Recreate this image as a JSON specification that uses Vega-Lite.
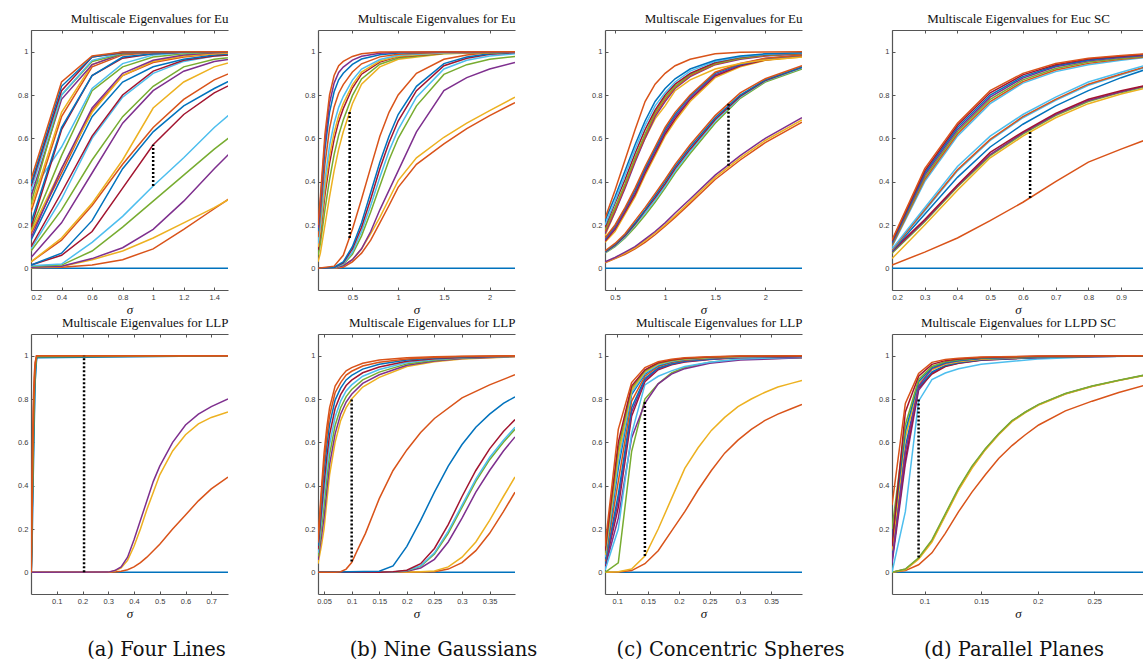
{
"$schema":"https://vega.github.io/schema/vega-lite/v6.json",
"padding":{"left":17,"top":12,"right":0,"bottom":0},
"config":{
 "view":{"stroke":null},
 "range":{"category":["#0072BD","#D95319","#EDB120","#7E2F8E","#77AC30","#4DBEEE","#A2142F"]},
 "axis":{"grid":false,"domainColor":"#555555","domainWidth":1.2,"tickColor":"#555555","tickSize":-3,"tickWidth":1,"labelFont":"Liberation Sans","labelFontSize":7.5,"labelColor":"#3a3a3a","labelPadding":6,"titleFont":"Liberation Serif","titleFontWeight":"normal","titleColor":"#111111"},
 "title":{"font":"DejaVu Serif","fontSize":19.5,"fontWeight":"normal","color":"#111111","orient":"bottom","offset":20}
},
"columns":4,
"bounds":"flush",
"align":"each",
"spacing":{"row":44,"column":90},
"datasets":{
"dots":[{"p":"a1","x":1,"y1":0.38,"y2":0.57},{"p":"b1","x":0.47,"y1":0.14,"y2":0.73},{"p":"c1","x":1.633,"y1":0.474,"y2":0.766},{"p":"d1","x":0.622,"y1":0.325,"y2":0.64},{"p":"a2","x":0.206,"y1":0,"y2":1},{"p":"b2","x":0.1,"y1":0.05,"y2":0.8},{"p":"c2","x":0.1448,"y1":0.075,"y2":0.79},{"p":"d2","x":0.0947,"y1":0.068,"y2":0.8}],
"a1":[
{"k":"01","x":0.2,"y":0},{"k":"01","x":1.6,"y":0},
{"k":"02","x":0.2,"y":0.003},{"k":"02","x":0.4,"y":0.005},{"k":"02","x":0.6,"y":0.015},{"k":"02","x":0.8,"y":0.04},{"k":"02","x":1,"y":0.09},{"k":"02","x":1.2,"y":0.18},{"k":"02","x":1.4,"y":0.275},{"k":"02","x":1.6,"y":0.37},
{"k":"03","x":0.2,"y":0.003},{"k":"03","x":0.4,"y":0.008},{"k":"03","x":0.6,"y":0.04},{"k":"03","x":0.8,"y":0.08},{"k":"03","x":1,"y":0.14},{"k":"03","x":1.2,"y":0.21},{"k":"03","x":1.4,"y":0.28},{"k":"03","x":1.6,"y":0.36},
{"k":"04","x":0.2,"y":0.005},{"k":"04","x":0.4,"y":0.01},{"k":"04","x":0.6,"y":0.045},{"k":"04","x":0.8,"y":0.095},{"k":"04","x":1,"y":0.18},{"k":"04","x":1.2,"y":0.31},{"k":"04","x":1.4,"y":0.46},{"k":"04","x":1.6,"y":0.6},
{"k":"05","x":0.2,"y":0.01},{"k":"05","x":0.4,"y":0.015},{"k":"05","x":0.6,"y":0.08},{"k":"05","x":0.8,"y":0.19},{"k":"05","x":1,"y":0.31},{"k":"05","x":1.2,"y":0.43},{"k":"05","x":1.4,"y":0.55},{"k":"05","x":1.6,"y":0.66},
{"k":"06","x":0.2,"y":0.012},{"k":"06","x":0.4,"y":0.02},{"k":"06","x":0.6,"y":0.12},{"k":"06","x":0.8,"y":0.24},{"k":"06","x":1,"y":0.38},{"k":"06","x":1.2,"y":0.51},{"k":"06","x":1.4,"y":0.65},{"k":"06","x":1.6,"y":0.77},
{"k":"07","x":0.2,"y":0.015},{"k":"07","x":0.4,"y":0.06},{"k":"07","x":0.6,"y":0.17},{"k":"07","x":0.8,"y":0.37},{"k":"07","x":1,"y":0.57},{"k":"07","x":1.2,"y":0.71},{"k":"07","x":1.4,"y":0.81},{"k":"07","x":1.6,"y":0.88},
{"k":"08","x":0.2,"y":0.015},{"k":"08","x":0.4,"y":0.07},{"k":"08","x":0.6,"y":0.22},{"k":"08","x":0.8,"y":0.46},{"k":"08","x":1,"y":0.63},{"k":"08","x":1.2,"y":0.75},{"k":"08","x":1.4,"y":0.83},{"k":"08","x":1.6,"y":0.9},
{"k":"09","x":0.2,"y":0.03},{"k":"09","x":0.4,"y":0.13},{"k":"09","x":0.6,"y":0.29},{"k":"09","x":0.8,"y":0.48},{"k":"09","x":1,"y":0.65},{"k":"09","x":1.2,"y":0.78},{"k":"09","x":1.4,"y":0.87},{"k":"09","x":1.6,"y":0.93},
{"k":"10","x":0.2,"y":0.03},{"k":"10","x":0.4,"y":0.14},{"k":"10","x":0.6,"y":0.3},{"k":"10","x":0.8,"y":0.5},{"k":"10","x":1,"y":0.74},{"k":"10","x":1.2,"y":0.86},{"k":"10","x":1.4,"y":0.93},{"k":"10","x":1.6,"y":0.97},
{"k":"11","x":0.2,"y":0.05},{"k":"11","x":0.4,"y":0.21},{"k":"11","x":0.6,"y":0.44},{"k":"11","x":0.8,"y":0.67},{"k":"11","x":1,"y":0.82},{"k":"11","x":1.2,"y":0.91},{"k":"11","x":1.4,"y":0.955},{"k":"11","x":1.6,"y":0.975},
{"k":"12","x":0.2,"y":0.08},{"k":"12","x":0.4,"y":0.27},{"k":"12","x":0.6,"y":0.5},{"k":"12","x":0.8,"y":0.7},{"k":"12","x":1,"y":0.84},{"k":"12","x":1.2,"y":0.93},{"k":"12","x":1.4,"y":0.965},{"k":"12","x":1.6,"y":0.98},
{"k":"13","x":0.2,"y":0.09},{"k":"13","x":0.4,"y":0.32},{"k":"13","x":0.6,"y":0.6},{"k":"13","x":0.8,"y":0.79},{"k":"13","x":1,"y":0.9},{"k":"13","x":1.2,"y":0.955},{"k":"13","x":1.4,"y":0.98},{"k":"13","x":1.6,"y":0.99},
{"k":"14","x":0.2,"y":0.1},{"k":"14","x":0.4,"y":0.35},{"k":"14","x":0.6,"y":0.61},{"k":"14","x":0.8,"y":0.8},{"k":"14","x":1,"y":0.91},{"k":"14","x":1.2,"y":0.96},{"k":"14","x":1.4,"y":0.98},{"k":"14","x":1.6,"y":0.99},
{"k":"15","x":0.2,"y":0.13},{"k":"15","x":0.4,"y":0.42},{"k":"15","x":0.6,"y":0.7},{"k":"15","x":0.8,"y":0.86},{"k":"15","x":1,"y":0.93},{"k":"15","x":1.2,"y":0.965},{"k":"15","x":1.4,"y":0.985},{"k":"15","x":1.6,"y":0.995},
{"k":"16","x":0.2,"y":0.16},{"k":"16","x":0.4,"y":0.44},{"k":"16","x":0.6,"y":0.73},{"k":"16","x":0.8,"y":0.89},{"k":"16","x":1,"y":0.95},{"k":"16","x":1.2,"y":0.975},{"k":"16","x":1.4,"y":0.99},{"k":"16","x":1.6,"y":0.995},
{"k":"17","x":0.2,"y":0.17},{"k":"17","x":0.4,"y":0.46},{"k":"17","x":0.6,"y":0.72},{"k":"17","x":0.8,"y":0.89},{"k":"17","x":1,"y":0.955},{"k":"17","x":1.2,"y":0.98},{"k":"17","x":1.4,"y":0.99},{"k":"17","x":1.6,"y":0.998},
{"k":"18","x":0.2,"y":0.14},{"k":"18","x":0.4,"y":0.46},{"k":"18","x":0.6,"y":0.74},{"k":"18","x":0.8,"y":0.9},{"k":"18","x":1,"y":0.96},{"k":"18","x":1.2,"y":0.985},{"k":"18","x":1.4,"y":0.995},{"k":"18","x":1.6,"y":1},
{"k":"19","x":0.2,"y":0.18},{"k":"19","x":0.4,"y":0.52},{"k":"19","x":0.6,"y":0.82},{"k":"19","x":0.8,"y":0.93},{"k":"19","x":1,"y":0.975},{"k":"19","x":1.2,"y":0.99},{"k":"19","x":1.4,"y":0.997},{"k":"19","x":1.6,"y":1},
{"k":"20","x":0.2,"y":0.35},{"k":"20","x":0.4,"y":0.56},{"k":"20","x":0.6,"y":0.83},{"k":"20","x":0.8,"y":0.945},{"k":"20","x":1,"y":0.985},{"k":"20","x":1.2,"y":0.995},{"k":"20","x":1.4,"y":0.998},{"k":"20","x":1.6,"y":1},
{"k":"21","x":0.2,"y":0.19},{"k":"21","x":0.4,"y":0.64},{"k":"21","x":0.6,"y":0.89},{"k":"21","x":0.8,"y":0.97},{"k":"21","x":1,"y":0.99},{"k":"21","x":1.2,"y":0.997},{"k":"21","x":1.6,"y":1},
{"k":"22","x":0.2,"y":0.21},{"k":"22","x":0.4,"y":0.65},{"k":"22","x":0.6,"y":0.89},{"k":"22","x":0.8,"y":0.975},{"k":"22","x":1,"y":0.99},{"k":"22","x":1.2,"y":0.998},{"k":"22","x":1.6,"y":1},
{"k":"23","x":0.2,"y":0.26},{"k":"23","x":0.4,"y":0.7},{"k":"23","x":0.6,"y":0.93},{"k":"23","x":0.8,"y":0.985},{"k":"23","x":1,"y":0.996},{"k":"23","x":1.6,"y":1},
{"k":"24","x":0.2,"y":0.28},{"k":"24","x":0.4,"y":0.72},{"k":"24","x":0.6,"y":0.94},{"k":"24","x":0.8,"y":0.99},{"k":"24","x":1,"y":0.997},{"k":"24","x":1.6,"y":1},
{"k":"25","x":0.2,"y":0.33},{"k":"25","x":0.4,"y":0.78},{"k":"25","x":0.6,"y":0.94},{"k":"25","x":0.8,"y":0.99},{"k":"25","x":1,"y":0.998},{"k":"25","x":1.6,"y":1},
{"k":"26","x":0.2,"y":0.3},{"k":"26","x":0.4,"y":0.8},{"k":"26","x":0.6,"y":0.955},{"k":"26","x":0.8,"y":0.99},{"k":"26","x":1,"y":0.998},{"k":"26","x":1.6,"y":1},
{"k":"27","x":0.2,"y":0.36},{"k":"27","x":0.4,"y":0.8},{"k":"27","x":0.6,"y":0.96},{"k":"27","x":0.8,"y":0.995},{"k":"27","x":1.6,"y":1},
{"k":"28","x":0.2,"y":0.38},{"k":"28","x":0.4,"y":0.82},{"k":"28","x":0.6,"y":0.975},{"k":"28","x":0.8,"y":0.995},{"k":"28","x":1.6,"y":1},
{"k":"29","x":0.2,"y":0.39},{"k":"29","x":0.4,"y":0.84},{"k":"29","x":0.6,"y":0.975},{"k":"29","x":0.8,"y":0.998},{"k":"29","x":1.6,"y":1},
{"k":"30","x":0.2,"y":0.41},{"k":"30","x":0.4,"y":0.86},{"k":"30","x":0.6,"y":0.98},{"k":"30","x":0.8,"y":0.998},{"k":"30","x":1.6,"y":1}
],
"b1":[
{"k":"01","x":0.124,"y":0},{"k":"01","x":2.277,"y":0},
{"k":"02","x":0.124,"y":0},{"k":"02","x":0.3,"y":0},{"k":"02","x":0.4,"y":0.005},{"k":"02","x":0.5,"y":0.03},{"k":"02","x":0.6,"y":0.07},{"k":"02","x":0.7,"y":0.13},{"k":"02","x":0.8,"y":0.21},{"k":"02","x":0.9,"y":0.29},{"k":"02","x":1,"y":0.374},{"k":"02","x":1.2,"y":0.48},{"k":"02","x":1.5,"y":0.574},{"k":"02","x":1.75,"y":0.645},{"k":"02","x":2,"y":0.705},{"k":"02","x":2.277,"y":0.765},
{"k":"03","x":0.124,"y":0},{"k":"03","x":0.3,"y":0},{"k":"03","x":0.4,"y":0.01},{"k":"03","x":0.5,"y":0.04},{"k":"03","x":0.6,"y":0.09},{"k":"03","x":0.7,"y":0.16},{"k":"03","x":0.8,"y":0.235},{"k":"03","x":0.9,"y":0.32},{"k":"03","x":1,"y":0.405},{"k":"03","x":1.2,"y":0.51},{"k":"03","x":1.5,"y":0.605},{"k":"03","x":1.75,"y":0.67},{"k":"03","x":2,"y":0.728},{"k":"03","x":2.277,"y":0.79},
{"k":"04","x":0.124,"y":0},{"k":"04","x":0.3,"y":0.002},{"k":"04","x":0.4,"y":0.012},{"k":"04","x":0.5,"y":0.04},{"k":"04","x":0.6,"y":0.09},{"k":"04","x":0.7,"y":0.17},{"k":"04","x":0.8,"y":0.27},{"k":"04","x":0.9,"y":0.36},{"k":"04","x":1,"y":0.45},{"k":"04","x":1.2,"y":0.63},{"k":"04","x":1.5,"y":0.82},{"k":"04","x":1.75,"y":0.88},{"k":"04","x":2,"y":0.92},{"k":"04","x":2.277,"y":0.95},
{"k":"05","x":0.124,"y":0},{"k":"05","x":0.3,"y":0.003},{"k":"05","x":0.4,"y":0.018},{"k":"05","x":0.5,"y":0.065},{"k":"05","x":0.6,"y":0.15},{"k":"05","x":0.7,"y":0.26},{"k":"05","x":0.8,"y":0.38},{"k":"05","x":0.9,"y":0.5},{"k":"05","x":1,"y":0.6},{"k":"05","x":1.2,"y":0.75},{"k":"05","x":1.5,"y":0.895},{"k":"05","x":1.75,"y":0.94},{"k":"05","x":2,"y":0.965},{"k":"05","x":2.277,"y":0.978},
{"k":"06","x":0.124,"y":0},{"k":"06","x":0.3,"y":0.003},{"k":"06","x":0.4,"y":0.02},{"k":"06","x":0.5,"y":0.075},{"k":"06","x":0.6,"y":0.17},{"k":"06","x":0.7,"y":0.29},{"k":"06","x":0.8,"y":0.42},{"k":"06","x":0.9,"y":0.54},{"k":"06","x":1,"y":0.64},{"k":"06","x":1.2,"y":0.79},{"k":"06","x":1.5,"y":0.92},{"k":"06","x":1.75,"y":0.96},{"k":"06","x":2,"y":0.98},{"k":"06","x":2.277,"y":0.99},
{"k":"07","x":0.124,"y":0},{"k":"07","x":0.3,"y":0.004},{"k":"07","x":0.4,"y":0.025},{"k":"07","x":0.5,"y":0.09},{"k":"07","x":0.6,"y":0.19},{"k":"07","x":0.7,"y":0.32},{"k":"07","x":0.8,"y":0.46},{"k":"07","x":0.9,"y":0.58},{"k":"07","x":1,"y":0.68},{"k":"07","x":1.2,"y":0.82},{"k":"07","x":1.5,"y":0.935},{"k":"07","x":1.75,"y":0.97},{"k":"07","x":2,"y":0.988},{"k":"07","x":2.277,"y":0.996},
{"k":"08","x":0.124,"y":0},{"k":"08","x":0.3,"y":0.005},{"k":"08","x":0.4,"y":0.03},{"k":"08","x":0.5,"y":0.1},{"k":"08","x":0.6,"y":0.21},{"k":"08","x":0.7,"y":0.35},{"k":"08","x":0.8,"y":0.49},{"k":"08","x":0.9,"y":0.61},{"k":"08","x":1,"y":0.71},{"k":"08","x":1.2,"y":0.84},{"k":"08","x":1.5,"y":0.945},{"k":"08","x":1.75,"y":0.975},{"k":"08","x":2,"y":0.99},{"k":"08","x":2.277,"y":0.997},
{"k":"09","x":0.124,"y":0},{"k":"09","x":0.3,"y":0.01},{"k":"09","x":0.4,"y":0.06},{"k":"09","x":0.5,"y":0.18},{"k":"09","x":0.6,"y":0.32},{"k":"09","x":0.7,"y":0.466},{"k":"09","x":0.8,"y":0.61},{"k":"09","x":0.9,"y":0.72},{"k":"09","x":1,"y":0.8},{"k":"09","x":1.2,"y":0.9},{"k":"09","x":1.5,"y":0.965},{"k":"09","x":1.75,"y":0.985},{"k":"09","x":2,"y":0.996},{"k":"09","x":2.277,"y":0.999},
{"k":"17","x":0.124,"y":0.03},{"k":"17","x":0.15,"y":0.07},{"k":"17","x":0.2,"y":0.2},{"k":"17","x":0.25,"y":0.33},{"k":"17","x":0.3,"y":0.45},{"k":"17","x":0.35,"y":0.55},{"k":"17","x":0.4,"y":0.63},{"k":"17","x":0.5,"y":0.76},{"k":"17","x":0.6,"y":0.85},{"k":"17","x":0.8,"y":0.93},{"k":"17","x":1,"y":0.965},{"k":"17","x":1.5,"y":0.99},{"k":"17","x":2.277,"y":0.998},
{"k":"19","x":0.124,"y":0.059},{"k":"19","x":0.15,"y":0.114},{"k":"19","x":0.2,"y":0.271},{"k":"19","x":0.25,"y":0.41},{"k":"19","x":0.3,"y":0.525},{"k":"19","x":0.35,"y":0.615},{"k":"19","x":0.4,"y":0.685},{"k":"19","x":0.5,"y":0.797},{"k":"19","x":0.6,"y":0.874},{"k":"19","x":0.8,"y":0.942},{"k":"19","x":1,"y":0.971},{"k":"19","x":1.5,"y":0.992},{"k":"19","x":2.277,"y":0.998},
{"k":"21","x":0.124,"y":0.086},{"k":"21","x":0.15,"y":0.156},{"k":"21","x":0.2,"y":0.339},{"k":"21","x":0.25,"y":0.485},{"k":"21","x":0.3,"y":0.595},{"k":"21","x":0.35,"y":0.677},{"k":"21","x":0.4,"y":0.737},{"k":"21","x":0.5,"y":0.832},{"k":"21","x":0.6,"y":0.896},{"k":"21","x":0.8,"y":0.952},{"k":"21","x":1,"y":0.977},{"k":"21","x":1.5,"y":0.993},{"k":"21","x":2.277,"y":0.999},
{"k":"24","x":0.124,"y":0.098},{"k":"24","x":0.15,"y":0.174},{"k":"24","x":0.2,"y":0.368},{"k":"24","x":0.25,"y":0.518},{"k":"24","x":0.3,"y":0.626},{"k":"24","x":0.35,"y":0.704},{"k":"24","x":0.4,"y":0.76},{"k":"24","x":0.5,"y":0.847},{"k":"24","x":0.6,"y":0.906},{"k":"24","x":0.8,"y":0.957},{"k":"24","x":1,"y":0.979},{"k":"24","x":1.5,"y":0.994},{"k":"24","x":2.277,"y":0.999},
{"k":"20","x":0.124,"y":0.115},{"k":"20","x":0.15,"y":0.2},{"k":"20","x":0.2,"y":0.41},{"k":"20","x":0.25,"y":0.565},{"k":"20","x":0.3,"y":0.67},{"k":"20","x":0.35,"y":0.743},{"k":"20","x":0.4,"y":0.793},{"k":"20","x":0.5,"y":0.869},{"k":"20","x":0.6,"y":0.92},{"k":"20","x":0.8,"y":0.964},{"k":"20","x":1,"y":0.983},{"k":"20","x":1.5,"y":0.995},{"k":"20","x":2.277,"y":0.999},
{"k":"23","x":0.124,"y":0.144},{"k":"23","x":0.15,"y":0.244},{"k":"23","x":0.2,"y":0.481},{"k":"23","x":0.25,"y":0.645},{"k":"23","x":0.3,"y":0.745},{"k":"23","x":0.35,"y":0.808},{"k":"23","x":0.4,"y":0.848},{"k":"23","x":0.5,"y":0.906},{"k":"23","x":0.6,"y":0.944},{"k":"23","x":0.8,"y":0.976},{"k":"23","x":1,"y":0.988},{"k":"23","x":1.5,"y":0.997},{"k":"23","x":2.277,"y":1},
{"k":"22","x":0.124,"y":0.171},{"k":"22","x":0.15,"y":0.286},{"k":"22","x":0.2,"y":0.549},{"k":"22","x":0.25,"y":0.72},{"k":"22","x":0.3,"y":0.815},{"k":"22","x":0.35,"y":0.87},{"k":"22","x":0.4,"y":0.9},{"k":"22","x":0.5,"y":0.941},{"k":"22","x":0.6,"y":0.966},{"k":"22","x":0.8,"y":0.986},{"k":"22","x":1,"y":0.994},{"k":"22","x":1.5,"y":0.998},{"k":"22","x":2.277,"y":1},
{"k":"25","x":0.124,"y":0.186},{"k":"25","x":0.15,"y":0.309},{"k":"25","x":0.2,"y":0.586},{"k":"25","x":0.25,"y":0.762},{"k":"25","x":0.3,"y":0.855},{"k":"25","x":0.35,"y":0.904},{"k":"25","x":0.4,"y":0.929},{"k":"25","x":0.5,"y":0.961},{"k":"25","x":0.6,"y":0.979},{"k":"25","x":0.8,"y":0.993},{"k":"25","x":1,"y":0.997},{"k":"25","x":2.277,"y":1},
{"k":"30","x":0.124,"y":0.2},{"k":"30","x":0.15,"y":0.33},{"k":"30","x":0.2,"y":0.62},{"k":"30","x":0.25,"y":0.8},{"k":"30","x":0.3,"y":0.89},{"k":"30","x":0.35,"y":0.935},{"k":"30","x":0.4,"y":0.955},{"k":"30","x":0.5,"y":0.978},{"k":"30","x":0.6,"y":0.99},{"k":"30","x":0.8,"y":0.998},{"k":"30","x":2.277,"y":1}
],
"c1":[
{"k":"01","x":0.4,"y":0},{"k":"01","x":2.367,"y":0},
{"k":"02","x":0.4,"y":0.025},{"k":"02","x":0.5,"y":0.045},{"k":"02","x":0.6,"y":0.065},{"k":"02","x":0.7,"y":0.09},{"k":"02","x":0.8,"y":0.12},{"k":"02","x":0.9,"y":0.155},{"k":"02","x":1,"y":0.195},{"k":"02","x":1.1,"y":0.235},{"k":"02","x":1.25,"y":0.3},{"k":"02","x":1.5,"y":0.41},{"k":"02","x":1.75,"y":0.5},{"k":"02","x":2,"y":0.58},{"k":"02","x":2.367,"y":0.675},
{"k":"03","x":0.4,"y":0.028},{"k":"03","x":0.5,"y":0.047},{"k":"03","x":0.6,"y":0.07},{"k":"03","x":0.7,"y":0.095},{"k":"03","x":0.8,"y":0.128},{"k":"03","x":0.9,"y":0.163},{"k":"03","x":1,"y":0.2},{"k":"03","x":1.1,"y":0.243},{"k":"03","x":1.25,"y":0.31},{"k":"03","x":1.5,"y":0.42},{"k":"03","x":1.75,"y":0.51},{"k":"03","x":2,"y":0.59},{"k":"03","x":2.367,"y":0.685},
{"k":"04","x":0.4,"y":0.03},{"k":"04","x":0.5,"y":0.05},{"k":"04","x":0.6,"y":0.075},{"k":"04","x":0.7,"y":0.1},{"k":"04","x":0.8,"y":0.135},{"k":"04","x":0.9,"y":0.17},{"k":"04","x":1,"y":0.21},{"k":"04","x":1.1,"y":0.255},{"k":"04","x":1.25,"y":0.32},{"k":"04","x":1.5,"y":0.43},{"k":"04","x":1.75,"y":0.52},{"k":"04","x":2,"y":0.6},{"k":"04","x":2.367,"y":0.695},
{"k":"12","x":0.4,"y":0.07},{"k":"12","x":0.5,"y":0.1},{"k":"12","x":0.6,"y":0.14},{"k":"12","x":0.7,"y":0.19},{"k":"12","x":0.8,"y":0.245},{"k":"12","x":0.9,"y":0.305},{"k":"12","x":1,"y":0.37},{"k":"12","x":1.1,"y":0.44},{"k":"12","x":1.25,"y":0.53},{"k":"12","x":1.5,"y":0.67},{"k":"12","x":1.75,"y":0.785},{"k":"12","x":2,"y":0.86},{"k":"12","x":2.367,"y":0.92},
{"k":"13","x":0.4,"y":0.073},{"k":"13","x":0.5,"y":0.104},{"k":"13","x":0.6,"y":0.145},{"k":"13","x":0.7,"y":0.2},{"k":"13","x":0.8,"y":0.255},{"k":"13","x":0.9,"y":0.315},{"k":"13","x":1,"y":0.38},{"k":"13","x":1.1,"y":0.45},{"k":"13","x":1.25,"y":0.54},{"k":"13","x":1.5,"y":0.68},{"k":"13","x":1.75,"y":0.79},{"k":"13","x":2,"y":0.864},{"k":"13","x":2.367,"y":0.925},
{"k":"07","x":0.4,"y":0.075},{"k":"07","x":0.5,"y":0.107},{"k":"07","x":0.6,"y":0.15},{"k":"07","x":0.7,"y":0.205},{"k":"07","x":0.8,"y":0.265},{"k":"07","x":0.9,"y":0.325},{"k":"07","x":1,"y":0.39},{"k":"07","x":1.1,"y":0.46},{"k":"07","x":1.25,"y":0.55},{"k":"07","x":1.5,"y":0.687},{"k":"07","x":1.75,"y":0.795},{"k":"07","x":2,"y":0.867},{"k":"07","x":2.367,"y":0.928},
{"k":"08","x":0.4,"y":0.077},{"k":"08","x":0.5,"y":0.11},{"k":"08","x":0.6,"y":0.155},{"k":"08","x":0.7,"y":0.21},{"k":"08","x":0.8,"y":0.27},{"k":"08","x":0.9,"y":0.335},{"k":"08","x":1,"y":0.4},{"k":"08","x":1.1,"y":0.47},{"k":"08","x":1.25,"y":0.56},{"k":"08","x":1.5,"y":0.695},{"k":"08","x":1.75,"y":0.8},{"k":"08","x":2,"y":0.87},{"k":"08","x":2.367,"y":0.93},
{"k":"09","x":0.4,"y":0.08},{"k":"09","x":0.5,"y":0.115},{"k":"09","x":0.6,"y":0.16},{"k":"09","x":0.7,"y":0.22},{"k":"09","x":0.8,"y":0.28},{"k":"09","x":0.9,"y":0.345},{"k":"09","x":1,"y":0.41},{"k":"09","x":1.1,"y":0.48},{"k":"09","x":1.25,"y":0.57},{"k":"09","x":1.5,"y":0.705},{"k":"09","x":1.75,"y":0.81},{"k":"09","x":2,"y":0.875},{"k":"09","x":2.367,"y":0.935},
{"k":"17","x":0.4,"y":0.12},{"k":"17","x":0.5,"y":0.17},{"k":"17","x":0.6,"y":0.25},{"k":"17","x":0.7,"y":0.33},{"k":"17","x":0.8,"y":0.43},{"k":"17","x":0.9,"y":0.52},{"k":"17","x":1,"y":0.61},{"k":"17","x":1.1,"y":0.68},{"k":"17","x":1.25,"y":0.77},{"k":"17","x":1.5,"y":0.88},{"k":"17","x":1.75,"y":0.93},{"k":"17","x":2,"y":0.96},{"k":"17","x":2.367,"y":0.975},
{"k":"14","x":0.4,"y":0.125},{"k":"14","x":0.5,"y":0.18},{"k":"14","x":0.6,"y":0.26},{"k":"14","x":0.7,"y":0.34},{"k":"14","x":0.8,"y":0.44},{"k":"14","x":0.9,"y":0.53},{"k":"14","x":1,"y":0.62},{"k":"14","x":1.1,"y":0.69},{"k":"14","x":1.25,"y":0.78},{"k":"14","x":1.5,"y":0.888},{"k":"14","x":1.75,"y":0.935},{"k":"14","x":2,"y":0.962},{"k":"14","x":2.367,"y":0.98},
{"k":"18","x":0.4,"y":0.13},{"k":"18","x":0.5,"y":0.185},{"k":"18","x":0.6,"y":0.265},{"k":"18","x":0.7,"y":0.35},{"k":"18","x":0.8,"y":0.45},{"k":"18","x":0.9,"y":0.54},{"k":"18","x":1,"y":0.63},{"k":"18","x":1.1,"y":0.7},{"k":"18","x":1.25,"y":0.785},{"k":"18","x":1.5,"y":0.893},{"k":"18","x":1.75,"y":0.938},{"k":"18","x":2,"y":0.965},{"k":"18","x":2.367,"y":0.982},
{"k":"15","x":0.4,"y":0.135},{"k":"15","x":0.5,"y":0.195},{"k":"15","x":0.6,"y":0.275},{"k":"15","x":0.7,"y":0.36},{"k":"15","x":0.8,"y":0.46},{"k":"15","x":0.9,"y":0.55},{"k":"15","x":1,"y":0.64},{"k":"15","x":1.1,"y":0.71},{"k":"15","x":1.25,"y":0.795},{"k":"15","x":1.5,"y":0.9},{"k":"15","x":1.75,"y":0.942},{"k":"15","x":2,"y":0.968},{"k":"15","x":2.367,"y":0.984},
{"k":"16","x":0.4,"y":0.14},{"k":"16","x":0.5,"y":0.2},{"k":"16","x":0.6,"y":0.28},{"k":"16","x":0.7,"y":0.37},{"k":"16","x":0.8,"y":0.47},{"k":"16","x":0.9,"y":0.56},{"k":"16","x":1,"y":0.65},{"k":"16","x":1.1,"y":0.72},{"k":"16","x":1.25,"y":0.8},{"k":"16","x":1.5,"y":0.905},{"k":"16","x":1.75,"y":0.945},{"k":"16","x":2,"y":0.97},{"k":"16","x":2.367,"y":0.985},
{"k":"24","x":0.4,"y":0.15},{"k":"24","x":0.5,"y":0.26},{"k":"24","x":0.6,"y":0.38},{"k":"24","x":0.7,"y":0.5},{"k":"24","x":0.8,"y":0.6},{"k":"24","x":0.9,"y":0.69},{"k":"24","x":1,"y":0.75},{"k":"24","x":1.1,"y":0.82},{"k":"24","x":1.25,"y":0.87},{"k":"24","x":1.5,"y":0.92},{"k":"24","x":1.75,"y":0.945},{"k":"24","x":2,"y":0.962},{"k":"24","x":2.367,"y":0.975},
{"k":"25","x":0.4,"y":0.16},{"k":"25","x":0.5,"y":0.26},{"k":"25","x":0.6,"y":0.37},{"k":"25","x":0.7,"y":0.49},{"k":"25","x":0.8,"y":0.6},{"k":"25","x":0.9,"y":0.7},{"k":"25","x":1,"y":0.77},{"k":"25","x":1.1,"y":0.83},{"k":"25","x":1.25,"y":0.885},{"k":"25","x":1.5,"y":0.94},{"k":"25","x":1.75,"y":0.965},{"k":"25","x":2,"y":0.98},{"k":"25","x":2.367,"y":0.99},
{"k":"23","x":0.4,"y":0.17},{"k":"23","x":0.5,"y":0.27},{"k":"23","x":0.6,"y":0.38},{"k":"23","x":0.7,"y":0.5},{"k":"23","x":0.8,"y":0.61},{"k":"23","x":0.9,"y":0.71},{"k":"23","x":1,"y":0.78},{"k":"23","x":1.1,"y":0.835},{"k":"23","x":1.25,"y":0.89},{"k":"23","x":1.5,"y":0.942},{"k":"23","x":1.75,"y":0.968},{"k":"23","x":2,"y":0.982},{"k":"23","x":2.367,"y":0.991},
{"k":"26","x":0.4,"y":0.18},{"k":"26","x":0.5,"y":0.28},{"k":"26","x":0.6,"y":0.39},{"k":"26","x":0.7,"y":0.51},{"k":"26","x":0.8,"y":0.62},{"k":"26","x":0.9,"y":0.72},{"k":"26","x":1,"y":0.79},{"k":"26","x":1.1,"y":0.84},{"k":"26","x":1.25,"y":0.895},{"k":"26","x":1.5,"y":0.945},{"k":"26","x":1.75,"y":0.97},{"k":"26","x":2,"y":0.984},{"k":"26","x":2.367,"y":0.992},
{"k":"28","x":0.4,"y":0.19},{"k":"28","x":0.5,"y":0.3},{"k":"28","x":0.6,"y":0.41},{"k":"28","x":0.7,"y":0.53},{"k":"28","x":0.8,"y":0.64},{"k":"28","x":0.9,"y":0.73},{"k":"28","x":1,"y":0.8},{"k":"28","x":1.1,"y":0.85},{"k":"28","x":1.25,"y":0.9},{"k":"28","x":1.5,"y":0.95},{"k":"28","x":1.75,"y":0.974},{"k":"28","x":2,"y":0.986},{"k":"28","x":2.367,"y":0.993},
{"k":"27","x":0.4,"y":0.2},{"k":"27","x":0.5,"y":0.31},{"k":"27","x":0.6,"y":0.43},{"k":"27","x":0.7,"y":0.55},{"k":"27","x":0.8,"y":0.66},{"k":"27","x":0.9,"y":0.75},{"k":"27","x":1,"y":0.81},{"k":"27","x":1.1,"y":0.86},{"k":"27","x":1.25,"y":0.91},{"k":"27","x":1.5,"y":0.955},{"k":"27","x":1.75,"y":0.977},{"k":"27","x":2,"y":0.988},{"k":"27","x":2.367,"y":0.994},
{"k":"29","x":0.4,"y":0.22},{"k":"29","x":0.5,"y":0.33},{"k":"29","x":0.6,"y":0.45},{"k":"29","x":0.7,"y":0.57},{"k":"29","x":0.8,"y":0.68},{"k":"29","x":0.9,"y":0.77},{"k":"29","x":1,"y":0.83},{"k":"29","x":1.1,"y":0.875},{"k":"29","x":1.25,"y":0.92},{"k":"29","x":1.5,"y":0.96},{"k":"29","x":1.75,"y":0.98},{"k":"29","x":2,"y":0.99},{"k":"29","x":2.367,"y":0.995},
{"k":"30","x":0.4,"y":0.23},{"k":"30","x":0.5,"y":0.36},{"k":"30","x":0.6,"y":0.5},{"k":"30","x":0.7,"y":0.64},{"k":"30","x":0.8,"y":0.77},{"k":"30","x":0.9,"y":0.85},{"k":"30","x":1,"y":0.9},{"k":"30","x":1.1,"y":0.935},{"k":"30","x":1.25,"y":0.965},{"k":"30","x":1.5,"y":0.99},{"k":"30","x":1.75,"y":0.997},{"k":"30","x":2,"y":0.999},{"k":"30","x":2.367,"y":1}
],
"d1":[
{"k":"01","x":0.2,"y":0},{"k":"01","x":0.97,"y":0},
{"k":"09","x":0.2,"y":0.015},{"k":"09","x":0.3,"y":0.075},{"k":"09","x":0.4,"y":0.14},{"k":"09","x":0.5,"y":0.22},{"k":"09","x":0.6,"y":0.305},{"k":"09","x":0.7,"y":0.4},{"k":"09","x":0.8,"y":0.49},{"k":"09","x":0.9,"y":0.55},{"k":"09","x":0.97,"y":0.59},
{"k":"10","x":0.2,"y":0.045},{"k":"10","x":0.3,"y":0.2},{"k":"10","x":0.4,"y":0.36},{"k":"10","x":0.5,"y":0.51},{"k":"10","x":0.6,"y":0.61},{"k":"10","x":0.7,"y":0.695},{"k":"10","x":0.8,"y":0.76},{"k":"10","x":0.9,"y":0.805},{"k":"10","x":0.97,"y":0.83},
{"k":"12","x":0.2,"y":0.07},{"k":"12","x":0.3,"y":0.215},{"k":"12","x":0.4,"y":0.375},{"k":"12","x":0.5,"y":0.52},{"k":"12","x":0.6,"y":0.62},{"k":"12","x":0.7,"y":0.705},{"k":"12","x":0.8,"y":0.77},{"k":"12","x":0.9,"y":0.812},{"k":"12","x":0.97,"y":0.837},
{"k":"11","x":0.2,"y":0.075},{"k":"11","x":0.3,"y":0.22},{"k":"11","x":0.4,"y":0.38},{"k":"11","x":0.5,"y":0.525},{"k":"11","x":0.6,"y":0.625},{"k":"11","x":0.7,"y":0.71},{"k":"11","x":0.8,"y":0.775},{"k":"11","x":0.9,"y":0.815},{"k":"11","x":0.97,"y":0.84},
{"k":"14","x":0.2,"y":0.08},{"k":"14","x":0.3,"y":0.225},{"k":"14","x":0.4,"y":0.385},{"k":"14","x":0.5,"y":0.535},{"k":"14","x":0.6,"y":0.63},{"k":"14","x":0.7,"y":0.715},{"k":"14","x":0.8,"y":0.78},{"k":"14","x":0.9,"y":0.82},{"k":"14","x":0.97,"y":0.843},
{"k":"15","x":0.2,"y":0.08},{"k":"15","x":0.3,"y":0.25},{"k":"15","x":0.4,"y":0.42},{"k":"15","x":0.5,"y":0.56},{"k":"15","x":0.6,"y":0.665},{"k":"15","x":0.7,"y":0.75},{"k":"15","x":0.8,"y":0.82},{"k":"15","x":0.9,"y":0.88},{"k":"15","x":0.97,"y":0.915},
{"k":"13","x":0.2,"y":0.085},{"k":"13","x":0.3,"y":0.265},{"k":"13","x":0.4,"y":0.45},{"k":"13","x":0.5,"y":0.59},{"k":"13","x":0.6,"y":0.695},{"k":"13","x":0.7,"y":0.775},{"k":"13","x":0.8,"y":0.845},{"k":"13","x":0.9,"y":0.893},{"k":"13","x":0.97,"y":0.925},
{"k":"16","x":0.2,"y":0.085},{"k":"16","x":0.3,"y":0.27},{"k":"16","x":0.4,"y":0.455},{"k":"16","x":0.5,"y":0.595},{"k":"16","x":0.6,"y":0.7},{"k":"16","x":0.7,"y":0.78},{"k":"16","x":0.8,"y":0.85},{"k":"16","x":0.9,"y":0.897},{"k":"16","x":0.97,"y":0.928},
{"k":"20","x":0.2,"y":0.09},{"k":"20","x":0.3,"y":0.28},{"k":"20","x":0.4,"y":0.47},{"k":"20","x":0.5,"y":0.61},{"k":"20","x":0.6,"y":0.71},{"k":"20","x":0.7,"y":0.79},{"k":"20","x":0.8,"y":0.86},{"k":"20","x":0.9,"y":0.905},{"k":"20","x":0.97,"y":0.935},
{"k":"27","x":0.2,"y":0.1},{"k":"27","x":0.3,"y":0.4},{"k":"27","x":0.4,"y":0.61},{"k":"27","x":0.5,"y":0.76},{"k":"27","x":0.6,"y":0.855},{"k":"27","x":0.7,"y":0.908},{"k":"27","x":0.8,"y":0.94},{"k":"27","x":0.9,"y":0.96},{"k":"27","x":0.97,"y":0.972},
{"k":"23","x":0.2,"y":0.105},{"k":"23","x":0.3,"y":0.41},{"k":"23","x":0.4,"y":0.62},{"k":"23","x":0.5,"y":0.77},{"k":"23","x":0.6,"y":0.862},{"k":"23","x":0.7,"y":0.915},{"k":"23","x":0.8,"y":0.946},{"k":"23","x":0.9,"y":0.965},{"k":"23","x":0.97,"y":0.975},
{"k":"26","x":0.2,"y":0.11},{"k":"26","x":0.3,"y":0.42},{"k":"26","x":0.4,"y":0.63},{"k":"26","x":0.5,"y":0.78},{"k":"26","x":0.6,"y":0.87},{"k":"26","x":0.7,"y":0.922},{"k":"26","x":0.8,"y":0.952},{"k":"26","x":0.9,"y":0.969},{"k":"26","x":0.97,"y":0.978},
{"k":"25","x":0.2,"y":0.115},{"k":"25","x":0.3,"y":0.43},{"k":"25","x":0.4,"y":0.64},{"k":"25","x":0.5,"y":0.79},{"k":"25","x":0.6,"y":0.878},{"k":"25","x":0.7,"y":0.93},{"k":"25","x":0.8,"y":0.958},{"k":"25","x":0.9,"y":0.973},{"k":"25","x":0.97,"y":0.982},
{"k":"29","x":0.2,"y":0.12},{"k":"29","x":0.3,"y":0.44},{"k":"29","x":0.4,"y":0.65},{"k":"29","x":0.5,"y":0.8},{"k":"29","x":0.6,"y":0.885},{"k":"29","x":0.7,"y":0.935},{"k":"29","x":0.8,"y":0.962},{"k":"29","x":0.9,"y":0.976},{"k":"29","x":0.97,"y":0.985},
{"k":"28","x":0.2,"y":0.125},{"k":"28","x":0.3,"y":0.45},{"k":"28","x":0.4,"y":0.66},{"k":"28","x":0.5,"y":0.81},{"k":"28","x":0.6,"y":0.893},{"k":"28","x":0.7,"y":0.94},{"k":"28","x":0.8,"y":0.966},{"k":"28","x":0.9,"y":0.979},{"k":"28","x":0.97,"y":0.987},
{"k":"30","x":0.2,"y":0.13},{"k":"30","x":0.3,"y":0.46},{"k":"30","x":0.4,"y":0.67},{"k":"30","x":0.5,"y":0.82},{"k":"30","x":0.6,"y":0.9},{"k":"30","x":0.7,"y":0.945},{"k":"30","x":0.8,"y":0.97},{"k":"30","x":0.9,"y":0.982},{"k":"30","x":0.97,"y":0.99}
],
"a2":[
{"k":"01","x":0,"y":0},{"k":"01","x":0.765,"y":0},
{"k":"02","x":0.001,"y":0},{"k":"02","x":0.3,"y":0},{"k":"02","x":0.325,"y":0.002},{"k":"02","x":0.35,"y":0.005},{"k":"02","x":0.375,"y":0.012},{"k":"02","x":0.4,"y":0.025},{"k":"02","x":0.425,"y":0.045},{"k":"02","x":0.45,"y":0.07},{"k":"02","x":0.475,"y":0.1},{"k":"02","x":0.5,"y":0.13},{"k":"02","x":0.55,"y":0.2},{"k":"02","x":0.6,"y":0.265},{"k":"02","x":0.65,"y":0.33},{"k":"02","x":0.7,"y":0.385},{"k":"02","x":0.765,"y":0.44},
{"k":"03","x":0.001,"y":0},{"k":"03","x":0.3,"y":0.001},{"k":"03","x":0.325,"y":0.006},{"k":"03","x":0.35,"y":0.02},{"k":"03","x":0.375,"y":0.055},{"k":"03","x":0.4,"y":0.12},{"k":"03","x":0.425,"y":0.2},{"k":"03","x":0.45,"y":0.29},{"k":"03","x":0.475,"y":0.37},{"k":"03","x":0.5,"y":0.45},{"k":"03","x":0.55,"y":0.56},{"k":"03","x":0.6,"y":0.635},{"k":"03","x":0.65,"y":0.685},{"k":"03","x":0.7,"y":0.715},{"k":"03","x":0.765,"y":0.74},
{"k":"04","x":0.001,"y":0},{"k":"04","x":0.3,"y":0.001},{"k":"04","x":0.325,"y":0.008},{"k":"04","x":0.35,"y":0.025},{"k":"04","x":0.375,"y":0.07},{"k":"04","x":0.4,"y":0.15},{"k":"04","x":0.425,"y":0.24},{"k":"04","x":0.45,"y":0.33},{"k":"04","x":0.475,"y":0.42},{"k":"04","x":0.5,"y":0.49},{"k":"04","x":0.55,"y":0.6},{"k":"04","x":0.6,"y":0.68},{"k":"04","x":0.65,"y":0.73},{"k":"04","x":0.7,"y":0.765},{"k":"04","x":0.765,"y":0.8},
{"k":"27","x":0.001,"y":0},{"k":"27","x":0.006,"y":0.35},{"k":"27","x":0.01,"y":0.6},{"k":"27","x":0.014,"y":0.8},{"k":"27","x":0.019,"y":0.96},{"k":"27","x":0.024,"y":1},{"k":"27","x":0.765,"y":1},
{"k":"28","x":0.001,"y":0},{"k":"28","x":0.005,"y":0.3},{"k":"28","x":0.009,"y":0.62},{"k":"28","x":0.013,"y":0.85},{"k":"28","x":0.018,"y":0.97},{"k":"28","x":0.024,"y":1},{"k":"28","x":0.765,"y":1},
{"k":"29","x":0.001,"y":0},{"k":"29","x":0.004,"y":0.1},{"k":"29","x":0.008,"y":0.4},{"k":"29","x":0.012,"y":0.65},{"k":"29","x":0.016,"y":0.88},{"k":"29","x":0.022,"y":0.99},{"k":"29","x":0.765,"y":1},
{"k":"26","x":0.001,"y":0},{"k":"26","x":0.004,"y":0.25},{"k":"26","x":0.008,"y":0.5},{"k":"26","x":0.012,"y":0.78},{"k":"26","x":0.016,"y":0.93},{"k":"26","x":0.022,"y":0.995},{"k":"26","x":0.765,"y":1},
{"k":"23","x":0.001,"y":0},{"k":"23","x":0.003,"y":0.2},{"k":"23","x":0.007,"y":0.55},{"k":"23","x":0.011,"y":0.8},{"k":"23","x":0.016,"y":0.95},{"k":"23","x":0.021,"y":1},{"k":"23","x":0.765,"y":1},
{"k":"30","x":0.001,"y":0},{"k":"30","x":0.004,"y":0.45},{"k":"30","x":0.008,"y":0.75},{"k":"30","x":0.012,"y":0.9},{"k":"30","x":0.016,"y":0.97},{"k":"30","x":0.022,"y":1},{"k":"30","x":0.765,"y":1}
],
"b2":[
{"k":"01","x":0.039,"y":0},{"k":"01","x":0.396,"y":0},
{"k":"02","x":0.039,"y":0},{"k":"02","x":0.2,"y":0},{"k":"02","x":0.225,"y":0.001},{"k":"02","x":0.25,"y":0.003},{"k":"02","x":0.275,"y":0.015},{"k":"02","x":0.3,"y":0.045},{"k":"02","x":0.325,"y":0.1},{"k":"02","x":0.35,"y":0.18},{"k":"02","x":0.375,"y":0.28},{"k":"02","x":0.396,"y":0.37},
{"k":"03","x":0.039,"y":0},{"k":"03","x":0.175,"y":0},{"k":"03","x":0.2,"y":0.001},{"k":"03","x":0.225,"y":0.003},{"k":"03","x":0.25,"y":0.006},{"k":"03","x":0.275,"y":0.025},{"k":"03","x":0.3,"y":0.07},{"k":"03","x":0.325,"y":0.14},{"k":"03","x":0.35,"y":0.24},{"k":"03","x":0.375,"y":0.35},{"k":"03","x":0.396,"y":0.44},
{"k":"04","x":0.039,"y":0},{"k":"04","x":0.15,"y":0},{"k":"04","x":0.175,"y":0.001},{"k":"04","x":0.2,"y":0.005},{"k":"04","x":0.225,"y":0.02},{"k":"04","x":0.25,"y":0.06},{"k":"04","x":0.275,"y":0.14},{"k":"04","x":0.3,"y":0.25},{"k":"04","x":0.325,"y":0.37},{"k":"04","x":0.35,"y":0.47},{"k":"04","x":0.375,"y":0.56},{"k":"04","x":0.396,"y":0.625},
{"k":"05","x":0.039,"y":0},{"k":"05","x":0.15,"y":0},{"k":"05","x":0.175,"y":0.002},{"k":"05","x":0.2,"y":0.007},{"k":"05","x":0.225,"y":0.028},{"k":"05","x":0.25,"y":0.085},{"k":"05","x":0.275,"y":0.18},{"k":"05","x":0.3,"y":0.3},{"k":"05","x":0.325,"y":0.42},{"k":"05","x":0.35,"y":0.52},{"k":"05","x":0.375,"y":0.6},{"k":"05","x":0.396,"y":0.66},
{"k":"06","x":0.039,"y":0},{"k":"06","x":0.15,"y":0},{"k":"06","x":0.175,"y":0.002},{"k":"06","x":0.2,"y":0.008},{"k":"06","x":0.225,"y":0.03},{"k":"06","x":0.25,"y":0.09},{"k":"06","x":0.275,"y":0.19},{"k":"06","x":0.3,"y":0.31},{"k":"06","x":0.325,"y":0.43},{"k":"06","x":0.35,"y":0.53},{"k":"06","x":0.375,"y":0.61},{"k":"06","x":0.396,"y":0.67},
{"k":"07","x":0.039,"y":0},{"k":"07","x":0.15,"y":0},{"k":"07","x":0.175,"y":0.003},{"k":"07","x":0.2,"y":0.01},{"k":"07","x":0.225,"y":0.04},{"k":"07","x":0.25,"y":0.11},{"k":"07","x":0.275,"y":0.22},{"k":"07","x":0.3,"y":0.35},{"k":"07","x":0.325,"y":0.47},{"k":"07","x":0.35,"y":0.57},{"k":"07","x":0.375,"y":0.65},{"k":"07","x":0.396,"y":0.705},
{"k":"08","x":0.039,"y":0},{"k":"08","x":0.15,"y":0.005},{"k":"08","x":0.175,"y":0.03},{"k":"08","x":0.2,"y":0.12},{"k":"08","x":0.225,"y":0.24},{"k":"08","x":0.25,"y":0.37},{"k":"08","x":0.275,"y":0.49},{"k":"08","x":0.3,"y":0.59},{"k":"08","x":0.325,"y":0.67},{"k":"08","x":0.35,"y":0.73},{"k":"08","x":0.375,"y":0.78},{"k":"08","x":0.396,"y":0.81},
{"k":"09","x":0.039,"y":0},{"k":"09","x":0.07,"y":0},{"k":"09","x":0.08,"y":0.003},{"k":"09","x":0.09,"y":0.015},{"k":"09","x":0.1,"y":0.045},{"k":"09","x":0.11,"y":0.1},{"k":"09","x":0.125,"y":0.18},{"k":"09","x":0.15,"y":0.34},{"k":"09","x":0.175,"y":0.47},{"k":"09","x":0.2,"y":0.565},{"k":"09","x":0.225,"y":0.645},{"k":"09","x":0.25,"y":0.71},{"k":"09","x":0.3,"y":0.805},{"k":"09","x":0.35,"y":0.865},{"k":"09","x":0.396,"y":0.912},
{"k":"24","x":0.039,"y":0.04},{"k":"24","x":0.045,"y":0.12},{"k":"24","x":0.05,"y":0.2},{"k":"24","x":0.055,"y":0.33},{"k":"24","x":0.06,"y":0.45},{"k":"24","x":0.07,"y":0.6},{"k":"24","x":0.08,"y":0.7},{"k":"24","x":0.09,"y":0.76},{"k":"24","x":0.1,"y":0.8},{"k":"24","x":0.12,"y":0.855},{"k":"24","x":0.15,"y":0.9},{"k":"24","x":0.2,"y":0.95},{"k":"24","x":0.25,"y":0.972},{"k":"24","x":0.3,"y":0.985},{"k":"24","x":0.396,"y":0.995},
{"k":"25","x":0.039,"y":0.057},{"k":"25","x":0.045,"y":0.159},{"k":"25","x":0.05,"y":0.253},{"k":"25","x":0.055,"y":0.381},{"k":"25","x":0.06,"y":0.497},{"k":"25","x":0.07,"y":0.639},{"k":"25","x":0.08,"y":0.73},{"k":"25","x":0.09,"y":0.786},{"k":"25","x":0.1,"y":0.822},{"k":"25","x":0.12,"y":0.872},{"k":"25","x":0.15,"y":0.912},{"k":"25","x":0.2,"y":0.956},{"k":"25","x":0.25,"y":0.975},{"k":"25","x":0.3,"y":0.987},{"k":"25","x":0.396,"y":0.996},
{"k":"26","x":0.039,"y":0.073},{"k":"26","x":0.045,"y":0.198},{"k":"26","x":0.05,"y":0.305},{"k":"26","x":0.055,"y":0.432},{"k":"26","x":0.06,"y":0.543},{"k":"26","x":0.07,"y":0.678},{"k":"26","x":0.08,"y":0.76},{"k":"26","x":0.09,"y":0.811},{"k":"26","x":0.1,"y":0.844},{"k":"26","x":0.12,"y":0.888},{"k":"26","x":0.15,"y":0.924},{"k":"26","x":0.2,"y":0.962},{"k":"26","x":0.25,"y":0.979},{"k":"26","x":0.3,"y":0.989},{"k":"26","x":0.396,"y":0.997},
{"k":"27","x":0.039,"y":0.09},{"k":"27","x":0.045,"y":0.237},{"k":"27","x":0.05,"y":0.358},{"k":"27","x":0.055,"y":0.483},{"k":"27","x":0.06,"y":0.59},{"k":"27","x":0.07,"y":0.717},{"k":"27","x":0.08,"y":0.79},{"k":"27","x":0.09,"y":0.837},{"k":"27","x":0.1,"y":0.865},{"k":"27","x":0.12,"y":0.905},{"k":"27","x":0.15,"y":0.936},{"k":"27","x":0.2,"y":0.968},{"k":"27","x":0.25,"y":0.982},{"k":"27","x":0.3,"y":0.99},{"k":"27","x":0.396,"y":0.997},
{"k":"28","x":0.039,"y":0.106},{"k":"28","x":0.045,"y":0.276},{"k":"28","x":0.05,"y":0.41},{"k":"28","x":0.055,"y":0.534},{"k":"28","x":0.06,"y":0.636},{"k":"28","x":0.07,"y":0.756},{"k":"28","x":0.08,"y":0.82},{"k":"28","x":0.09,"y":0.862},{"k":"28","x":0.1,"y":0.887},{"k":"28","x":0.12,"y":0.921},{"k":"28","x":0.15,"y":0.948},{"k":"28","x":0.2,"y":0.974},{"k":"28","x":0.25,"y":0.986},{"k":"28","x":0.3,"y":0.992},{"k":"28","x":0.396,"y":0.998},
{"k":"29","x":0.039,"y":0.123},{"k":"29","x":0.045,"y":0.315},{"k":"29","x":0.05,"y":0.463},{"k":"29","x":0.055,"y":0.585},{"k":"29","x":0.06,"y":0.683},{"k":"29","x":0.07,"y":0.795},{"k":"29","x":0.08,"y":0.85},{"k":"29","x":0.09,"y":0.888},{"k":"29","x":0.1,"y":0.909},{"k":"29","x":0.12,"y":0.938},{"k":"29","x":0.15,"y":0.96},{"k":"29","x":0.2,"y":0.98},{"k":"29","x":0.25,"y":0.989},{"k":"29","x":0.3,"y":0.994},{"k":"29","x":0.396,"y":0.999},
{"k":"23","x":0.039,"y":0.137},{"k":"23","x":0.045,"y":0.349},{"k":"23","x":0.05,"y":0.508},{"k":"23","x":0.055,"y":0.629},{"k":"23","x":0.06,"y":0.723},{"k":"23","x":0.07,"y":0.829},{"k":"23","x":0.08,"y":0.876},{"k":"23","x":0.09,"y":0.91},{"k":"23","x":0.1,"y":0.928},{"k":"23","x":0.12,"y":0.952},{"k":"23","x":0.15,"y":0.97},{"k":"23","x":0.2,"y":0.985},{"k":"23","x":0.25,"y":0.992},{"k":"23","x":0.3,"y":0.996},{"k":"23","x":0.396,"y":0.999},
{"k":"30","x":0.039,"y":0.15},{"k":"30","x":0.045,"y":0.38},{"k":"30","x":0.05,"y":0.55},{"k":"30","x":0.055,"y":0.67},{"k":"30","x":0.06,"y":0.76},{"k":"30","x":0.07,"y":0.86},{"k":"30","x":0.08,"y":0.9},{"k":"30","x":0.09,"y":0.93},{"k":"30","x":0.1,"y":0.945},{"k":"30","x":0.12,"y":0.965},{"k":"30","x":0.15,"y":0.98},{"k":"30","x":0.2,"y":0.99},{"k":"30","x":0.25,"y":0.995},{"k":"30","x":0.3,"y":0.997},{"k":"30","x":0.396,"y":1}
],
"c2":[
{"k":"01","x":0.08,"y":0},{"k":"01","x":0.4,"y":0},
{"k":"02","x":0.08,"y":0},{"k":"02","x":0.1016,"y":0.002},{"k":"02","x":0.1232,"y":0.008},{"k":"02","x":0.1448,"y":0.04},{"k":"02","x":0.1664,"y":0.1},{"k":"02","x":0.188,"y":0.19},{"k":"02","x":0.2096,"y":0.28},{"k":"02","x":0.2312,"y":0.38},{"k":"02","x":0.2528,"y":0.47},{"k":"02","x":0.2744,"y":0.55},{"k":"02","x":0.296,"y":0.61},{"k":"02","x":0.3176,"y":0.66},{"k":"02","x":0.3392,"y":0.7},{"k":"02","x":0.3608,"y":0.73},{"k":"02","x":0.3824,"y":0.755},{"k":"02","x":0.4,"y":0.775},
{"k":"03","x":0.08,"y":0},{"k":"03","x":0.1016,"y":0.003},{"k":"03","x":0.1232,"y":0.015},{"k":"03","x":0.1448,"y":0.075},{"k":"03","x":0.1664,"y":0.2},{"k":"03","x":0.188,"y":0.34},{"k":"03","x":0.2096,"y":0.48},{"k":"03","x":0.2312,"y":0.575},{"k":"03","x":0.2528,"y":0.655},{"k":"03","x":0.2744,"y":0.715},{"k":"03","x":0.296,"y":0.765},{"k":"03","x":0.3176,"y":0.8},{"k":"03","x":0.3392,"y":0.83},{"k":"03","x":0.3608,"y":0.855},{"k":"03","x":0.3824,"y":0.872},{"k":"03","x":0.4,"y":0.885},
{"k":"19","x":0.08,"y":0},{"k":"19","x":0.1016,"y":0.044},{"k":"19","x":0.1232,"y":0.557},{"k":"19","x":0.1448,"y":0.8},{"k":"19","x":0.1664,"y":0.87},{"k":"19","x":0.188,"y":0.92},{"k":"19","x":0.2096,"y":0.945},{"k":"19","x":0.25,"y":0.97},{"k":"19","x":0.3,"y":0.983},{"k":"19","x":0.4,"y":0.99},
{"k":"18","x":0.08,"y":0.02},{"k":"18","x":0.1016,"y":0.25},{"k":"18","x":0.1232,"y":0.62},{"k":"18","x":0.1448,"y":0.78},{"k":"18","x":0.1664,"y":0.87},{"k":"18","x":0.188,"y":0.915},{"k":"18","x":0.2096,"y":0.94},{"k":"18","x":0.25,"y":0.965},{"k":"18","x":0.3,"y":0.98},{"k":"18","x":0.4,"y":0.99},
{"k":"20","x":0.08,"y":0.01},{"k":"20","x":0.1016,"y":0.2},{"k":"20","x":0.1232,"y":0.64},{"k":"20","x":0.1448,"y":0.865},{"k":"20","x":0.1664,"y":0.905},{"k":"20","x":0.188,"y":0.93},{"k":"20","x":0.2096,"y":0.95},{"k":"20","x":0.25,"y":0.97},{"k":"20","x":0.3,"y":0.985},{"k":"20","x":0.4,"y":0.993},
{"k":"21","x":0.08,"y":0.03},{"k":"21","x":0.1016,"y":0.3},{"k":"21","x":0.1232,"y":0.72},{"k":"21","x":0.1448,"y":0.88},{"k":"21","x":0.1664,"y":0.935},{"k":"21","x":0.188,"y":0.958},{"k":"21","x":0.2096,"y":0.971},{"k":"21","x":0.25,"y":0.982},{"k":"21","x":0.3,"y":0.991},{"k":"21","x":0.4,"y":0.996},
{"k":"25","x":0.08,"y":0.035},{"k":"25","x":0.1016,"y":0.33},{"k":"25","x":0.1232,"y":0.74},{"k":"25","x":0.1448,"y":0.888},{"k":"25","x":0.1664,"y":0.94},{"k":"25","x":0.188,"y":0.96},{"k":"25","x":0.2096,"y":0.973},{"k":"25","x":0.25,"y":0.984},{"k":"25","x":0.3,"y":0.992},{"k":"25","x":0.4,"y":0.996},
{"k":"22","x":0.08,"y":0.04},{"k":"22","x":0.1016,"y":0.36},{"k":"22","x":0.1232,"y":0.76},{"k":"22","x":0.1448,"y":0.895},{"k":"22","x":0.1664,"y":0.943},{"k":"22","x":0.188,"y":0.963},{"k":"22","x":0.2096,"y":0.975},{"k":"22","x":0.25,"y":0.985},{"k":"22","x":0.3,"y":0.993},{"k":"22","x":0.4,"y":0.997},
{"k":"23","x":0.08,"y":0.05},{"k":"23","x":0.1016,"y":0.42},{"k":"23","x":0.1232,"y":0.79},{"k":"23","x":0.1448,"y":0.905},{"k":"23","x":0.1664,"y":0.95},{"k":"23","x":0.188,"y":0.968},{"k":"23","x":0.2096,"y":0.979},{"k":"23","x":0.25,"y":0.988},{"k":"23","x":0.3,"y":0.994},{"k":"23","x":0.4,"y":0.998},
{"k":"29","x":0.08,"y":0.06},{"k":"29","x":0.1016,"y":0.48},{"k":"29","x":0.1232,"y":0.82},{"k":"29","x":0.1448,"y":0.915},{"k":"29","x":0.1664,"y":0.955},{"k":"29","x":0.188,"y":0.972},{"k":"29","x":0.2096,"y":0.982},{"k":"29","x":0.25,"y":0.99},{"k":"29","x":0.3,"y":0.995},{"k":"29","x":0.4,"y":0.998},
{"k":"27","x":0.08,"y":0.07},{"k":"27","x":0.1016,"y":0.51},{"k":"27","x":0.1232,"y":0.83},{"k":"27","x":0.1448,"y":0.92},{"k":"27","x":0.1664,"y":0.958},{"k":"27","x":0.188,"y":0.974},{"k":"27","x":0.2096,"y":0.983},{"k":"27","x":0.25,"y":0.991},{"k":"27","x":0.3,"y":0.995},{"k":"27","x":0.4,"y":0.998},
{"k":"24","x":0.08,"y":0.08},{"k":"24","x":0.1016,"y":0.54},{"k":"24","x":0.1232,"y":0.84},{"k":"24","x":0.1448,"y":0.925},{"k":"24","x":0.1664,"y":0.962},{"k":"24","x":0.188,"y":0.977},{"k":"24","x":0.2096,"y":0.985},{"k":"24","x":0.25,"y":0.992},{"k":"24","x":0.3,"y":0.996},{"k":"24","x":0.4,"y":0.999},
{"k":"26","x":0.08,"y":0.09},{"k":"26","x":0.1016,"y":0.57},{"k":"26","x":0.1232,"y":0.85},{"k":"26","x":0.1448,"y":0.93},{"k":"26","x":0.1664,"y":0.964},{"k":"26","x":0.188,"y":0.978},{"k":"26","x":0.2096,"y":0.986},{"k":"26","x":0.25,"y":0.993},{"k":"26","x":0.3,"y":0.997},{"k":"26","x":0.4,"y":0.999},
{"k":"28","x":0.08,"y":0.1},{"k":"28","x":0.1016,"y":0.6},{"k":"28","x":0.1232,"y":0.86},{"k":"28","x":0.1448,"y":0.935},{"k":"28","x":0.1664,"y":0.967},{"k":"28","x":0.188,"y":0.98},{"k":"28","x":0.2096,"y":0.988},{"k":"28","x":0.25,"y":0.994},{"k":"28","x":0.3,"y":0.997},{"k":"28","x":0.4,"y":0.999},
{"k":"30","x":0.08,"y":0.12},{"k":"30","x":0.1016,"y":0.66},{"k":"30","x":0.1232,"y":0.876},{"k":"30","x":0.1448,"y":0.945},{"k":"30","x":0.1664,"y":0.972},{"k":"30","x":0.188,"y":0.983},{"k":"30","x":0.2096,"y":0.99},{"k":"30","x":0.25,"y":0.995},{"k":"30","x":0.3,"y":0.998},{"k":"30","x":0.4,"y":1}
],
"d2":[
{"k":"01","x":0.0712,"y":0},{"k":"01","x":0.294,"y":0},
{"k":"02","x":0.0712,"y":0},{"k":"02","x":0.083,"y":0.008},{"k":"02","x":0.0947,"y":0.035},{"k":"02","x":0.1065,"y":0.09},{"k":"02","x":0.1183,"y":0.18},{"k":"02","x":0.1301,"y":0.28},{"k":"02","x":0.1419,"y":0.37},{"k":"02","x":0.1537,"y":0.45},{"k":"02","x":0.1655,"y":0.525},{"k":"02","x":0.1773,"y":0.585},{"k":"02","x":0.1891,"y":0.635},{"k":"02","x":0.2009,"y":0.68},{"k":"02","x":0.2245,"y":0.745},{"k":"02","x":0.2481,"y":0.79},{"k":"02","x":0.2717,"y":0.83},{"k":"02","x":0.294,"y":0.862},
{"k":"04","x":0.0712,"y":0},{"k":"04","x":0.083,"y":0.014},{"k":"04","x":0.0947,"y":0.064},{"k":"04","x":0.1065,"y":0.145},{"k":"04","x":0.1183,"y":0.265},{"k":"04","x":0.1301,"y":0.385},{"k":"04","x":0.1419,"y":0.485},{"k":"04","x":0.1537,"y":0.568},{"k":"04","x":0.1655,"y":0.638},{"k":"04","x":0.1773,"y":0.698},{"k":"04","x":0.1891,"y":0.739},{"k":"04","x":0.2009,"y":0.774},{"k":"04","x":0.2245,"y":0.824},{"k":"04","x":0.2481,"y":0.859},{"k":"04","x":0.2717,"y":0.886},{"k":"04","x":0.294,"y":0.909},
{"k":"03","x":0.0712,"y":0},{"k":"03","x":0.083,"y":0.012},{"k":"03","x":0.0947,"y":0.06},{"k":"03","x":0.1065,"y":0.14},{"k":"03","x":0.1183,"y":0.26},{"k":"03","x":0.1301,"y":0.38},{"k":"03","x":0.1419,"y":0.48},{"k":"03","x":0.1537,"y":0.565},{"k":"03","x":0.1655,"y":0.635},{"k":"03","x":0.1773,"y":0.695},{"k":"03","x":0.1891,"y":0.737},{"k":"03","x":0.2009,"y":0.772},{"k":"03","x":0.2245,"y":0.823},{"k":"03","x":0.2481,"y":0.858},{"k":"03","x":0.2717,"y":0.885},{"k":"03","x":0.294,"y":0.908},
{"k":"05","x":0.0712,"y":0},{"k":"05","x":0.083,"y":0.015},{"k":"05","x":0.0947,"y":0.067},{"k":"05","x":0.1065,"y":0.15},{"k":"05","x":0.1183,"y":0.27},{"k":"05","x":0.1301,"y":0.39},{"k":"05","x":0.1419,"y":0.49},{"k":"05","x":0.1537,"y":0.57},{"k":"05","x":0.1655,"y":0.64},{"k":"05","x":0.1773,"y":0.7},{"k":"05","x":0.1891,"y":0.74},{"k":"05","x":0.2009,"y":0.775},{"k":"05","x":0.2245,"y":0.825},{"k":"05","x":0.2481,"y":0.86},{"k":"05","x":0.2717,"y":0.887},{"k":"05","x":0.294,"y":0.91},
{"k":"20","x":0.0712,"y":0},{"k":"20","x":0.083,"y":0.28},{"k":"20","x":0.0947,"y":0.79},{"k":"20","x":0.1065,"y":0.89},{"k":"20","x":0.1183,"y":0.92},{"k":"20","x":0.1301,"y":0.94},{"k":"20","x":0.15,"y":0.96},{"k":"20","x":0.2,"y":0.985},{"k":"20","x":0.25,"y":0.995},{"k":"20","x":0.294,"y":0.998},
{"k":"18","x":0.0712,"y":0.04},{"k":"18","x":0.083,"y":0.5},{"k":"18","x":0.0947,"y":0.84},{"k":"18","x":0.1065,"y":0.92},{"k":"18","x":0.1183,"y":0.952},{"k":"18","x":0.1301,"y":0.966},{"k":"18","x":0.15,"y":0.98},{"k":"18","x":0.2,"y":0.991},{"k":"18","x":0.25,"y":0.996},{"k":"18","x":0.294,"y":0.998},
{"k":"21","x":0.0712,"y":0.06},{"k":"21","x":0.083,"y":0.52},{"k":"21","x":0.0947,"y":0.85},{"k":"21","x":0.1065,"y":0.915},{"k":"21","x":0.1183,"y":0.95},{"k":"21","x":0.1301,"y":0.965},{"k":"21","x":0.15,"y":0.979},{"k":"21","x":0.2,"y":0.991},{"k":"21","x":0.25,"y":0.996},{"k":"21","x":0.294,"y":0.998},
{"k":"29","x":0.0712,"y":0.08},{"k":"29","x":0.083,"y":0.58},{"k":"29","x":0.0947,"y":0.855},{"k":"29","x":0.1065,"y":0.925},{"k":"29","x":0.1183,"y":0.955},{"k":"29","x":0.1301,"y":0.968},{"k":"29","x":0.15,"y":0.981},{"k":"29","x":0.2,"y":0.992},{"k":"29","x":0.25,"y":0.996},{"k":"29","x":0.294,"y":0.998},
{"k":"24","x":0.0712,"y":0.1},{"k":"24","x":0.083,"y":0.62},{"k":"24","x":0.0947,"y":0.87},{"k":"24","x":0.1065,"y":0.935},{"k":"24","x":0.1183,"y":0.96},{"k":"24","x":0.1301,"y":0.972},{"k":"24","x":0.15,"y":0.984},{"k":"24","x":0.2,"y":0.994},{"k":"24","x":0.25,"y":0.997},{"k":"24","x":0.294,"y":0.999},
{"k":"25","x":0.0712,"y":0.05},{"k":"25","x":0.083,"y":0.55},{"k":"25","x":0.0947,"y":0.86},{"k":"25","x":0.1065,"y":0.94},{"k":"25","x":0.1183,"y":0.965},{"k":"25","x":0.1301,"y":0.976},{"k":"25","x":0.15,"y":0.987},{"k":"25","x":0.2,"y":0.995},{"k":"25","x":0.25,"y":0.998},{"k":"25","x":0.294,"y":0.999},
{"k":"22","x":0.0712,"y":0.15},{"k":"22","x":0.083,"y":0.65},{"k":"22","x":0.0947,"y":0.88},{"k":"22","x":0.1065,"y":0.945},{"k":"22","x":0.1183,"y":0.968},{"k":"22","x":0.1301,"y":0.978},{"k":"22","x":0.15,"y":0.988},{"k":"22","x":0.2,"y":0.995},{"k":"22","x":0.25,"y":0.998},{"k":"22","x":0.294,"y":0.999},
{"k":"26","x":0.0712,"y":0.2},{"k":"26","x":0.083,"y":0.68},{"k":"26","x":0.0947,"y":0.89},{"k":"26","x":0.1065,"y":0.95},{"k":"26","x":0.1183,"y":0.972},{"k":"26","x":0.1301,"y":0.981},{"k":"26","x":0.15,"y":0.99},{"k":"26","x":0.2,"y":0.996},{"k":"26","x":0.25,"y":0.998},{"k":"26","x":0.294,"y":0.999},
{"k":"28","x":0.0712,"y":0.12},{"k":"28","x":0.083,"y":0.74},{"k":"28","x":0.0947,"y":0.905},{"k":"28","x":0.1065,"y":0.96},{"k":"28","x":0.1183,"y":0.977},{"k":"28","x":0.1301,"y":0.985},{"k":"28","x":0.15,"y":0.992},{"k":"28","x":0.2,"y":0.997},{"k":"28","x":0.25,"y":0.999},{"k":"28","x":0.294,"y":1},
{"k":"30","x":0.0712,"y":0.31},{"k":"30","x":0.083,"y":0.78},{"k":"30","x":0.0947,"y":0.918},{"k":"30","x":0.1065,"y":0.969},{"k":"30","x":0.1183,"y":0.982},{"k":"30","x":0.1301,"y":0.988},{"k":"30","x":0.15,"y":0.994},{"k":"30","x":0.2,"y":0.998},{"k":"30","x":0.25,"y":0.999},{"k":"30","x":0.294,"y":1}
]
},
"concat":[
{"width":197,"height":260,"layer":[
 {"data":{"name":"a1"},"mark":{"type":"line","clip":true,"strokeWidth":1.5},"encoding":{
  "x":{"field":"x","type":"quantitative","scale":{"domain":[0.2,1.49],"nice":false,"zero":false},"axis":{"orient":"bottom","values":[0.2,0.4,0.6,0.8,1,1.2,1.4],"format":"~g","title":"σ","titleFont":"Liberation Serif","titleFontStyle":"italic","titleFontWeight":"normal","titleFontSize":13,"titlePadding":3}},
  "y":{"field":"y","type":"quantitative","scale":{"domain":[-0.1,1.1],"nice":false,"zero":false},"axis":{"values":[0,0.2,0.4,0.6,0.8,1],"format":"~g","title":null}},
  "color":{"field":"k","type":"nominal","legend":null}}},
 {"data":{"name":"dots"},"transform":[{"filter":"datum.p=='a1'"}],"mark":{"type":"rule","color":"black","strokeWidth":2.5,"strokeDash":[2,2]},"encoding":{
  "x":{"field":"x","type":"quantitative","axis":{"orient":"top","values":[0.2,0.4,0.6,0.8,1,1.2,1.4],"labels":false,"title":"Multiscale Eigenvalues for Eu","titleAnchor":"end","titleFont":"Liberation Serif","titleFontWeight":"normal","titleFontSize":13,"titlePadding":4}},
  "y":{"field":"y1","type":"quantitative","axis":null},"y2":{"field":"y2"}}}
],"resolve":{"axis":{"x":"independent","y":"independent"}}},
{"width":197,"height":260,"layer":[
 {"data":{"name":"b1"},"mark":{"type":"line","clip":true,"strokeWidth":1.5},"encoding":{
  "x":{"field":"x","type":"quantitative","scale":{"domain":[0.124,2.277],"nice":false,"zero":false},"axis":{"orient":"bottom","values":[0.5,1,1.5,2],"format":"~g","title":"σ","titleFont":"Liberation Serif","titleFontStyle":"italic","titleFontWeight":"normal","titleFontSize":13,"titlePadding":3}},
  "y":{"field":"y","type":"quantitative","scale":{"domain":[-0.1,1.1],"nice":false,"zero":false},"axis":{"values":[0,0.2,0.4,0.6,0.8,1],"format":"~g","title":null}},
  "color":{"field":"k","type":"nominal","legend":null}}},
 {"data":{"name":"dots"},"transform":[{"filter":"datum.p=='b1'"}],"mark":{"type":"rule","color":"black","strokeWidth":2.5,"strokeDash":[2,2]},"encoding":{
  "x":{"field":"x","type":"quantitative","axis":{"orient":"top","values":[0.5,1,1.5,2],"labels":false,"title":"Multiscale Eigenvalues for Eu","titleAnchor":"end","titleFont":"Liberation Serif","titleFontWeight":"normal","titleFontSize":13,"titlePadding":4}},
  "y":{"field":"y1","type":"quantitative","axis":null},"y2":{"field":"y2"}}}
],"resolve":{"axis":{"x":"independent","y":"independent"}}},
{"width":197,"height":260,"layer":[
 {"data":{"name":"c1"},"mark":{"type":"line","clip":true,"strokeWidth":1.5},"encoding":{
  "x":{"field":"x","type":"quantitative","scale":{"domain":[0.4,2.367],"nice":false,"zero":false},"axis":{"orient":"bottom","values":[0.5,1,1.5,2],"format":"~g","title":"σ","titleFont":"Liberation Serif","titleFontStyle":"italic","titleFontWeight":"normal","titleFontSize":13,"titlePadding":3}},
  "y":{"field":"y","type":"quantitative","scale":{"domain":[-0.1,1.1],"nice":false,"zero":false},"axis":{"values":[0,0.2,0.4,0.6,0.8,1],"format":"~g","title":null}},
  "color":{"field":"k","type":"nominal","legend":null}}},
 {"data":{"name":"dots"},"transform":[{"filter":"datum.p=='c1'"}],"mark":{"type":"rule","color":"black","strokeWidth":2.5,"strokeDash":[2,2]},"encoding":{
  "x":{"field":"x","type":"quantitative","axis":{"orient":"top","values":[0.5,1,1.5,2],"labels":false,"title":"Multiscale Eigenvalues for Eu","titleAnchor":"end","titleFont":"Liberation Serif","titleFontWeight":"normal","titleFontSize":13,"titlePadding":4}},
  "y":{"field":"y1","type":"quantitative","axis":null},"y2":{"field":"y2"}}}
],"resolve":{"axis":{"x":"independent","y":"independent"}}},
{"width":252,"height":260,"layer":[
 {"data":{"name":"d1"},"mark":{"type":"line","clip":true,"strokeWidth":1.5},"encoding":{
  "x":{"field":"x","type":"quantitative","scale":{"domain":[0.2,0.97],"nice":false,"zero":false},"axis":{"orient":"bottom","values":[0.2,0.3,0.4,0.5,0.6,0.7,0.8,0.9],"format":"~g","title":"σ","titleFont":"Liberation Serif","titleFontStyle":"italic","titleFontWeight":"normal","titleFontSize":13,"titlePadding":3}},
  "y":{"field":"y","type":"quantitative","scale":{"domain":[-0.1,1.1],"nice":false,"zero":false},"axis":{"values":[0,0.2,0.4,0.6,0.8,1],"format":"~g","title":null}},
  "color":{"field":"k","type":"nominal","legend":null}}},
 {"data":{"name":"dots"},"transform":[{"filter":"datum.p=='d1'"}],"mark":{"type":"rule","color":"black","strokeWidth":2.5,"strokeDash":[2,2]},"encoding":{
  "x":{"field":"x","type":"quantitative","axis":{"orient":"top","values":[0.2,0.3,0.4,0.5,0.6,0.7,0.8,0.9],"labels":false,"title":"Multiscale Eigenvalues for Euc SC","titleAnchor":"middle","titleFont":"Liberation Serif","titleFontWeight":"normal","titleFontSize":13,"titlePadding":4}},
  "y":{"field":"y1","type":"quantitative","axis":null},"y2":{"field":"y2"}}}
],"resolve":{"axis":{"x":"independent","y":"independent"}}},
{"width":197,"height":260,"title":{"text":"(a) Four Lines","dx":27},"layer":[
 {"data":{"name":"a2"},"mark":{"type":"line","clip":true,"strokeWidth":1.5},"encoding":{
  "x":{"field":"x","type":"quantitative","scale":{"domain":[0,0.765],"nice":false,"zero":false},"axis":{"orient":"bottom","values":[0.1,0.2,0.3,0.4,0.5,0.6,0.7],"format":"~g","title":"σ","titleFont":"Liberation Serif","titleFontStyle":"italic","titleFontWeight":"normal","titleFontSize":13,"titlePadding":3}},
  "y":{"field":"y","type":"quantitative","scale":{"domain":[-0.1,1.1],"nice":false,"zero":false},"axis":{"values":[0,0.2,0.4,0.6,0.8,1],"format":"~g","title":null}},
  "color":{"field":"k","type":"nominal","legend":null}}},
 {"data":{"name":"dots"},"transform":[{"filter":"datum.p=='a2'"}],"mark":{"type":"rule","color":"black","strokeWidth":2.5,"strokeDash":[2,2]},"encoding":{
  "x":{"field":"x","type":"quantitative","axis":{"orient":"top","values":[0.1,0.2,0.3,0.4,0.5,0.6,0.7],"labels":false,"title":"Multiscale Eigenvalues for LLP","titleAnchor":"end","titleFont":"Liberation Serif","titleFontWeight":"normal","titleFontSize":13,"titlePadding":4}},
  "y":{"field":"y1","type":"quantitative","axis":null},"y2":{"field":"y2"}}}
],"resolve":{"axis":{"x":"independent","y":"independent"}}},
{"width":197,"height":260,"title":{"text":"(b) Nine Gaussians","dx":27},"layer":[
 {"data":{"name":"b2"},"mark":{"type":"line","clip":true,"strokeWidth":1.5},"encoding":{
  "x":{"field":"x","type":"quantitative","scale":{"domain":[0.039,0.396],"nice":false,"zero":false},"axis":{"orient":"bottom","values":[0.05,0.1,0.15,0.2,0.25,0.3,0.35],"format":"~g","title":"σ","titleFont":"Liberation Serif","titleFontStyle":"italic","titleFontWeight":"normal","titleFontSize":13,"titlePadding":3}},
  "y":{"field":"y","type":"quantitative","scale":{"domain":[-0.1,1.1],"nice":false,"zero":false},"axis":{"values":[0,0.2,0.4,0.6,0.8,1],"format":"~g","title":null}},
  "color":{"field":"k","type":"nominal","legend":null}}},
 {"data":{"name":"dots"},"transform":[{"filter":"datum.p=='b2'"}],"mark":{"type":"rule","color":"black","strokeWidth":2.5,"strokeDash":[2,2]},"encoding":{
  "x":{"field":"x","type":"quantitative","axis":{"orient":"top","values":[0.05,0.1,0.15,0.2,0.25,0.3,0.35],"labels":false,"title":"Multiscale Eigenvalues for LLP","titleAnchor":"end","titleFont":"Liberation Serif","titleFontWeight":"normal","titleFontSize":13,"titlePadding":4}},
  "y":{"field":"y1","type":"quantitative","axis":null},"y2":{"field":"y2"}}}
],"resolve":{"axis":{"x":"independent","y":"independent"}}},
{"width":197,"height":260,"title":{"text":"(c) Concentric Spheres","dx":27},"layer":[
 {"data":{"name":"c2"},"mark":{"type":"line","clip":true,"strokeWidth":1.5},"encoding":{
  "x":{"field":"x","type":"quantitative","scale":{"domain":[0.08,0.4],"nice":false,"zero":false},"axis":{"orient":"bottom","values":[0.1,0.15,0.2,0.25,0.3,0.35],"format":"~g","title":"σ","titleFont":"Liberation Serif","titleFontStyle":"italic","titleFontWeight":"normal","titleFontSize":13,"titlePadding":3}},
  "y":{"field":"y","type":"quantitative","scale":{"domain":[-0.1,1.1],"nice":false,"zero":false},"axis":{"values":[0,0.2,0.4,0.6,0.8,1],"format":"~g","title":null}},
  "color":{"field":"k","type":"nominal","legend":null}}},
 {"data":{"name":"dots"},"transform":[{"filter":"datum.p=='c2'"}],"mark":{"type":"rule","color":"black","strokeWidth":2.5,"strokeDash":[2,2]},"encoding":{
  "x":{"field":"x","type":"quantitative","axis":{"orient":"top","values":[0.1,0.15,0.2,0.25,0.3,0.35],"labels":false,"title":"Multiscale Eigenvalues for LLP","titleAnchor":"end","titleFont":"Liberation Serif","titleFontWeight":"normal","titleFontSize":13,"titlePadding":4}},
  "y":{"field":"y1","type":"quantitative","axis":null},"y2":{"field":"y2"}}}
],"resolve":{"axis":{"x":"independent","y":"independent"}}},
{"width":252,"height":260,"title":{"text":"(d) Parallel Planes","dx":-4},"layer":[
 {"data":{"name":"d2"},"mark":{"type":"line","clip":true,"strokeWidth":1.5},"encoding":{
  "x":{"field":"x","type":"quantitative","scale":{"domain":[0.0712,0.294],"nice":false,"zero":false},"axis":{"orient":"bottom","values":[0.1,0.15,0.2,0.25],"format":"~g","title":"σ","titleFont":"Liberation Serif","titleFontStyle":"italic","titleFontWeight":"normal","titleFontSize":13,"titlePadding":3}},
  "y":{"field":"y","type":"quantitative","scale":{"domain":[-0.1,1.1],"nice":false,"zero":false},"axis":{"values":[0,0.2,0.4,0.6,0.8,1],"format":"~g","title":null}},
  "color":{"field":"k","type":"nominal","legend":null}}},
 {"data":{"name":"dots"},"transform":[{"filter":"datum.p=='d2'"}],"mark":{"type":"rule","color":"black","strokeWidth":2.5,"strokeDash":[2,2]},"encoding":{
  "x":{"field":"x","type":"quantitative","axis":{"orient":"top","values":[0.1,0.15,0.2,0.25],"labels":false,"title":"Multiscale Eigenvalues for LLPD SC","titleAnchor":"middle","titleFont":"Liberation Serif","titleFontWeight":"normal","titleFontSize":13,"titlePadding":4}},
  "y":{"field":"y1","type":"quantitative","axis":null},"y2":{"field":"y2"}}}
],"resolve":{"axis":{"x":"independent","y":"independent"}}}
]
}
